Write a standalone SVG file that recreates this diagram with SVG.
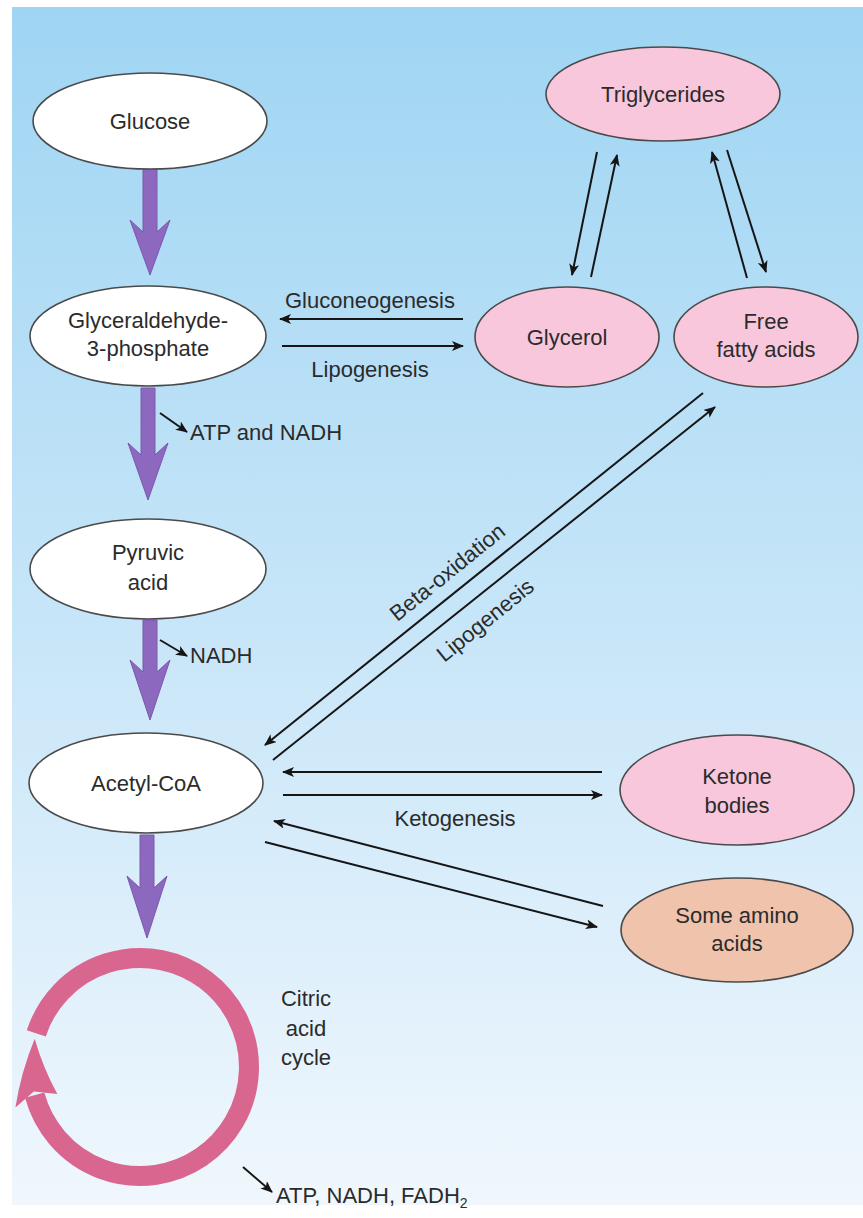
<svg xmlns="http://www.w3.org/2000/svg" width="863" height="1218" viewBox="0 0 863 1218">
  <defs>
    <linearGradient id="bg" x1="0" y1="0" x2="0" y2="1">
      <stop offset="0" stop-color="#9fd5f3"/>
      <stop offset="0.5" stop-color="#c6e5f8"/>
      <stop offset="1" stop-color="#f0f7fd"/>
    </linearGradient>
    <marker id="ah" viewBox="0 0 12 10" refX="11" refY="5" markerWidth="12" markerHeight="10" markerUnits="userSpaceOnUse" orient="auto">
      <path d="M0,0 L12,5 L0,10 L3,5 Z" fill="#151515"/>
    </marker>
    <style>
      .node { stroke: #4a4a4a; stroke-width: 1.6; }
      .white { fill: #ffffff; }
      .pink { fill: #f8c7dc; }
      .salmon { fill: #f0c3ad; }
      .lbl { font-family: "Liberation Sans", Arial, sans-serif; font-size: 22px; fill: #2b2b2b; text-anchor: middle; }
      .lbl-l { font-family: "Liberation Sans", Arial, sans-serif; font-size: 22px; fill: #2b2b2b; }
      .conn { stroke: #151515; stroke-width: 2; fill: none; marker-end: url(#ah); }
      .flow { fill: #8d68bf; stroke: #7a58ad; stroke-width: 1; }
      .ring { fill: none; stroke: #d9668f; stroke-width: 20; }
      .ring-head { fill: #d9668f; }
    </style>
  </defs>

  <!-- page and tinted panel -->
  <rect x="0" y="0" width="863" height="1218" fill="#ffffff"/>
  <rect x="12" y="7" width="851" height="1198" fill="url(#bg)"/>

  <!-- main glycolysis flow arrows -->
  <g id="flow-arrows">
    <path class="flow" d="M143,168 H157 V232 L170,220 L150,275 L130,220 L143,232 Z"/>
    <path class="flow" d="M141,388 H155 V455 L168,443 L148,500 L128,443 L141,455 Z"/>
    <path class="flow" d="M143,620 H157 V672 L170,660 L150,720 L130,660 L143,672 Z"/>
    <path class="flow" d="M140,835 H154 V888 L167,876 L147,938 L127,876 L140,888 Z"/>
  </g>

  <!-- citric acid cycle ring -->
  <g id="citric-cycle">
    <path class="ring" d="M36.3,1033.3 A109,109 0 1 1 34.7,1095.2"/>
    <path class="ring-head" d="M15.4,1107.5 Q21,1072 34.7,1038.8 Q43,1068 57.3,1093.9 L33.8,1091.5 Z"/>
    <text class="lbl" x="306" y="1006">Citric</text>
    <text class="lbl" x="306" y="1036">acid</text>
    <text class="lbl" x="306" y="1065">cycle</text>
  </g>

  <!-- connectors -->
  <g id="connectors">
    <line class="conn" x1="463" y1="319" x2="280" y2="319"/>
    <line class="conn" x1="282" y1="346" x2="463" y2="346"/>
    <line class="conn" x1="597" y1="152" x2="572" y2="275"/>
    <line class="conn" x1="591" y1="277" x2="617" y2="155"/>
    <line class="conn" x1="747" y1="278" x2="712" y2="152"/>
    <line class="conn" x1="727" y1="150" x2="766" y2="272"/>
    <line class="conn" x1="703" y1="393" x2="265" y2="745"/>
    <line class="conn" x1="273" y1="760" x2="715" y2="407"/>
    <line class="conn" x1="602" y1="772" x2="283" y2="772"/>
    <line class="conn" x1="283" y1="795" x2="602" y2="795"/>
    <line class="conn" x1="603" y1="906" x2="274" y2="821"/>
    <line class="conn" x1="265" y1="842" x2="597" y2="927"/>
    <line class="conn" x1="160" y1="413" x2="187" y2="432"/>
    <line class="conn" x1="160" y1="640" x2="187" y2="656"/>
    <line class="conn" x1="243" y1="1167" x2="272" y2="1192"/>
  </g>

  <!-- connector labels -->
  <g id="connector-labels">
    <text class="lbl" x="370" y="308">Gluconeogenesis</text>
    <text class="lbl" x="370" y="377">Lipogenesis</text>
    <text class="lbl" x="455" y="826">Ketogenesis</text>
    <text class="lbl" transform="translate(452,578) rotate(-39)">Beta-oxidation</text>
    <text class="lbl" transform="translate(490,626) rotate(-39)">Lipogenesis</text>
    <text class="lbl-l" x="190" y="440">ATP and NADH</text>
    <text class="lbl-l" x="190" y="663">NADH</text>
    <text class="lbl-l" x="276" y="1203">ATP, NADH, FADH<tspan font-size="14" dy="5">2</tspan></text>
  </g>

  <!-- nodes -->
  <g id="glucose">
    <ellipse class="node white" cx="150" cy="121" rx="117" ry="48"/>
    <text class="lbl" x="150" y="129">Glucose</text>
  </g>
  <g id="triglycerides">
    <ellipse class="node pink" cx="663" cy="94" rx="117" ry="47"/>
    <text class="lbl" x="663" y="102">Triglycerides</text>
  </g>
  <g id="g3p">
    <ellipse class="node white" cx="148" cy="336" rx="118" ry="50"/>
    <text class="lbl" x="148" y="328">Glyceraldehyde-</text>
    <text class="lbl" x="148" y="356">3-phosphate</text>
  </g>
  <g id="glycerol">
    <ellipse class="node pink" cx="567" cy="337" rx="92" ry="50"/>
    <text class="lbl" x="567" y="345">Glycerol</text>
  </g>
  <g id="free-fatty-acids">
    <ellipse class="node pink" cx="766" cy="337" rx="92" ry="50"/>
    <text class="lbl" x="766" y="329">Free</text>
    <text class="lbl" x="766" y="357">fatty acids</text>
  </g>
  <g id="pyruvic-acid">
    <ellipse class="node white" cx="148" cy="569" rx="118" ry="50"/>
    <text class="lbl" x="148" y="560">Pyruvic</text>
    <text class="lbl" x="148" y="590">acid</text>
  </g>
  <g id="acetyl-coa">
    <ellipse class="node white" cx="146" cy="783" rx="117" ry="50"/>
    <text class="lbl" x="146" y="791">Acetyl-CoA</text>
  </g>
  <g id="ketone-bodies">
    <ellipse class="node pink" cx="737" cy="790" rx="117" ry="55"/>
    <text class="lbl" x="737" y="784">Ketone</text>
    <text class="lbl" x="737" y="813">bodies</text>
  </g>
  <g id="amino-acids">
    <ellipse class="node salmon" cx="737" cy="930" rx="116" ry="52"/>
    <text class="lbl" x="737" y="923">Some amino</text>
    <text class="lbl" x="737" y="951">acids</text>
  </g>
</svg>
